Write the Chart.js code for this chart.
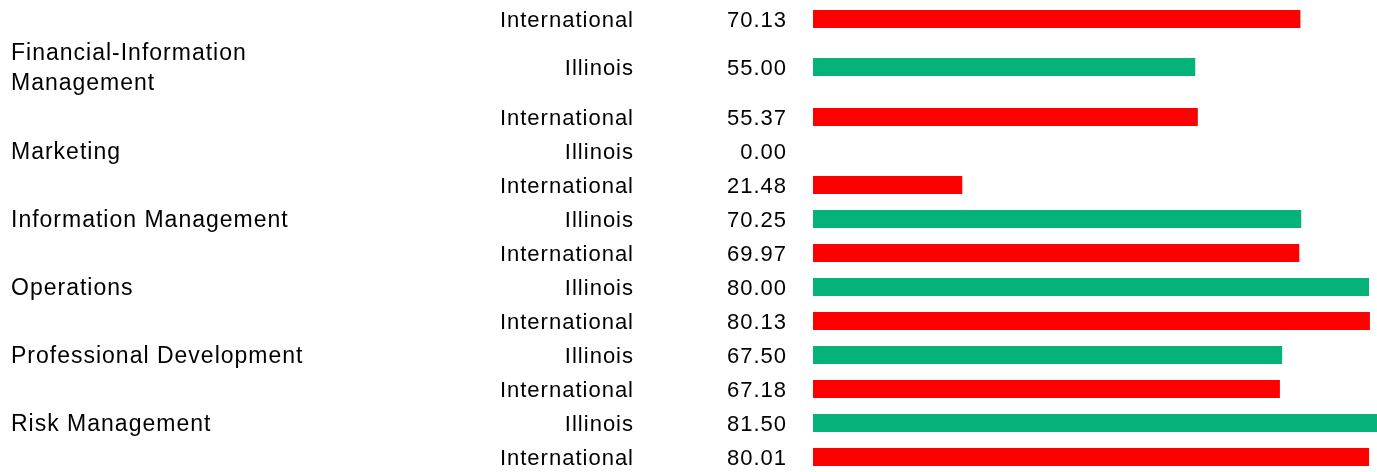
<!DOCTYPE html>
<html>
<head>
<meta charset="utf-8">
<script src="https://cdn.jsdelivr.net/npm/chart.js@4.4.0/dist/chart.umd.min.js"></script>
<style>
  html, body { margin: 0; padding: 0; background: #fff; overflow: hidden; }
  body { width: 1377px; height: 472px; position: relative; }
  canvas { position: absolute; left: 0; }
  #chartTop { top: -5px; }
  #chartBottom { top: 100px; }
</style>
</head>
<body>
<canvas id="chartTop" width="1377" height="116"></canvas>
<canvas id="chartBottom" width="1377" height="374"></canvas>
<script>
// Table rows, top to bottom (first row's category is above the visible part)
const CATEGORIES = [
  '',
  ['Financial-Information', 'Management'],
  '',
  'Marketing',
  '',
  'Information Management',
  '',
  'Operations',
  '',
  'Professional Development',
  '',
  'Risk Management',
  ''
];
const REGIONS = [
  'International', 'Illinois', 'International', 'Illinois', 'International',
  'Illinois', 'International', 'Illinois', 'International', 'Illinois',
  'International', 'Illinois', 'International'
];
const SCORES = [70.13, 55.00, 55.37, 0.00, 21.48, 70.25, 69.97, 80.00, 80.13, 67.50, 67.18, 81.50, 80.01];

const GREEN = '#05b279';
const RED = '#ff0000';
const FONT = { family: '"Liberation Sans", Arial, sans-serif', size: 22 };

// rows 0-1 sit in taller cells, the rest in 34px cells
const SPLIT = 2;

// wider letter spacing like the original, and nudge the axis text 2px down
const textTweak = {
  id: 'textTweak',
  beforeDraw(chart) {
    chart.ctx.letterSpacing = '1px';
    chart.ctx.save();
    chart.ctx.translate(0, 2);
  },
  beforeDatasetsDraw(chart) {
    chart.ctx.restore();
  }
};

function labelAxis(labels, weight, width, ticks) {
  return {
    type: 'category',
    position: 'left',
    labels: labels,
    offset: true,
    weight: weight,
    grid: { display: false, drawTicks: false },
    border: { display: false },
    ticks: Object.assign({ color: '#000', font: FONT, autoSkip: false }, ticks),
    afterFit: s => {
      s.width = width;
      s.paddingTop = 0;
      s.paddingBottom = 0;
    }
  };
}

function makeChart(canvasId, from, to, bottomPad) {
  const cats = CATEGORIES.slice(from, to);
  const regs = REGIONS.slice(from, to);
  const vals = SCORES.slice(from, to);
  const valLabels = vals.map(v => v.toFixed(2));
  return new Chart(document.getElementById(canvasId), {
    type: 'bar',
    data: {
      labels: valLabels,
      datasets: [{
        data: vals,
        backgroundColor: regs.map(r => r === 'Illinois' ? GREEN : RED),
        borderWidth: 0,
        inflateAmount: 0,
        barThickness: 18
      }]
    },
    plugins: [textTweak],
    options: {
      indexAxis: 'y',
      responsive: false,
      animation: false,
      layout: { padding: { left: 11, right: 0, top: 0, bottom: bottomPad } },
      plugins: { legend: { display: false }, tooltip: { enabled: false } },
      scales: {
        x: { display: false, min: 0, max: 81.15 },
        yCat: labelAxis(cats, 3, 300, {
          crossAlign: 'far', padding: 0,
          font: Object.assign({}, FONT, { size: 23, lineHeight: 1.3 })
        }),
        yReg: labelAxis(regs, 2, 329, { padding: 6 }),
        y: labelAxis(valLabels, 1, 173, { padding: 26 })
      }
    }
  });
}

// top canvas is taller than its rows so the wrapped label is not cut off
makeChart('chartTop', 0, SPLIT, 20);
makeChart('chartBottom', SPLIT, SCORES.length, 0);
</script>
</body>
</html>
